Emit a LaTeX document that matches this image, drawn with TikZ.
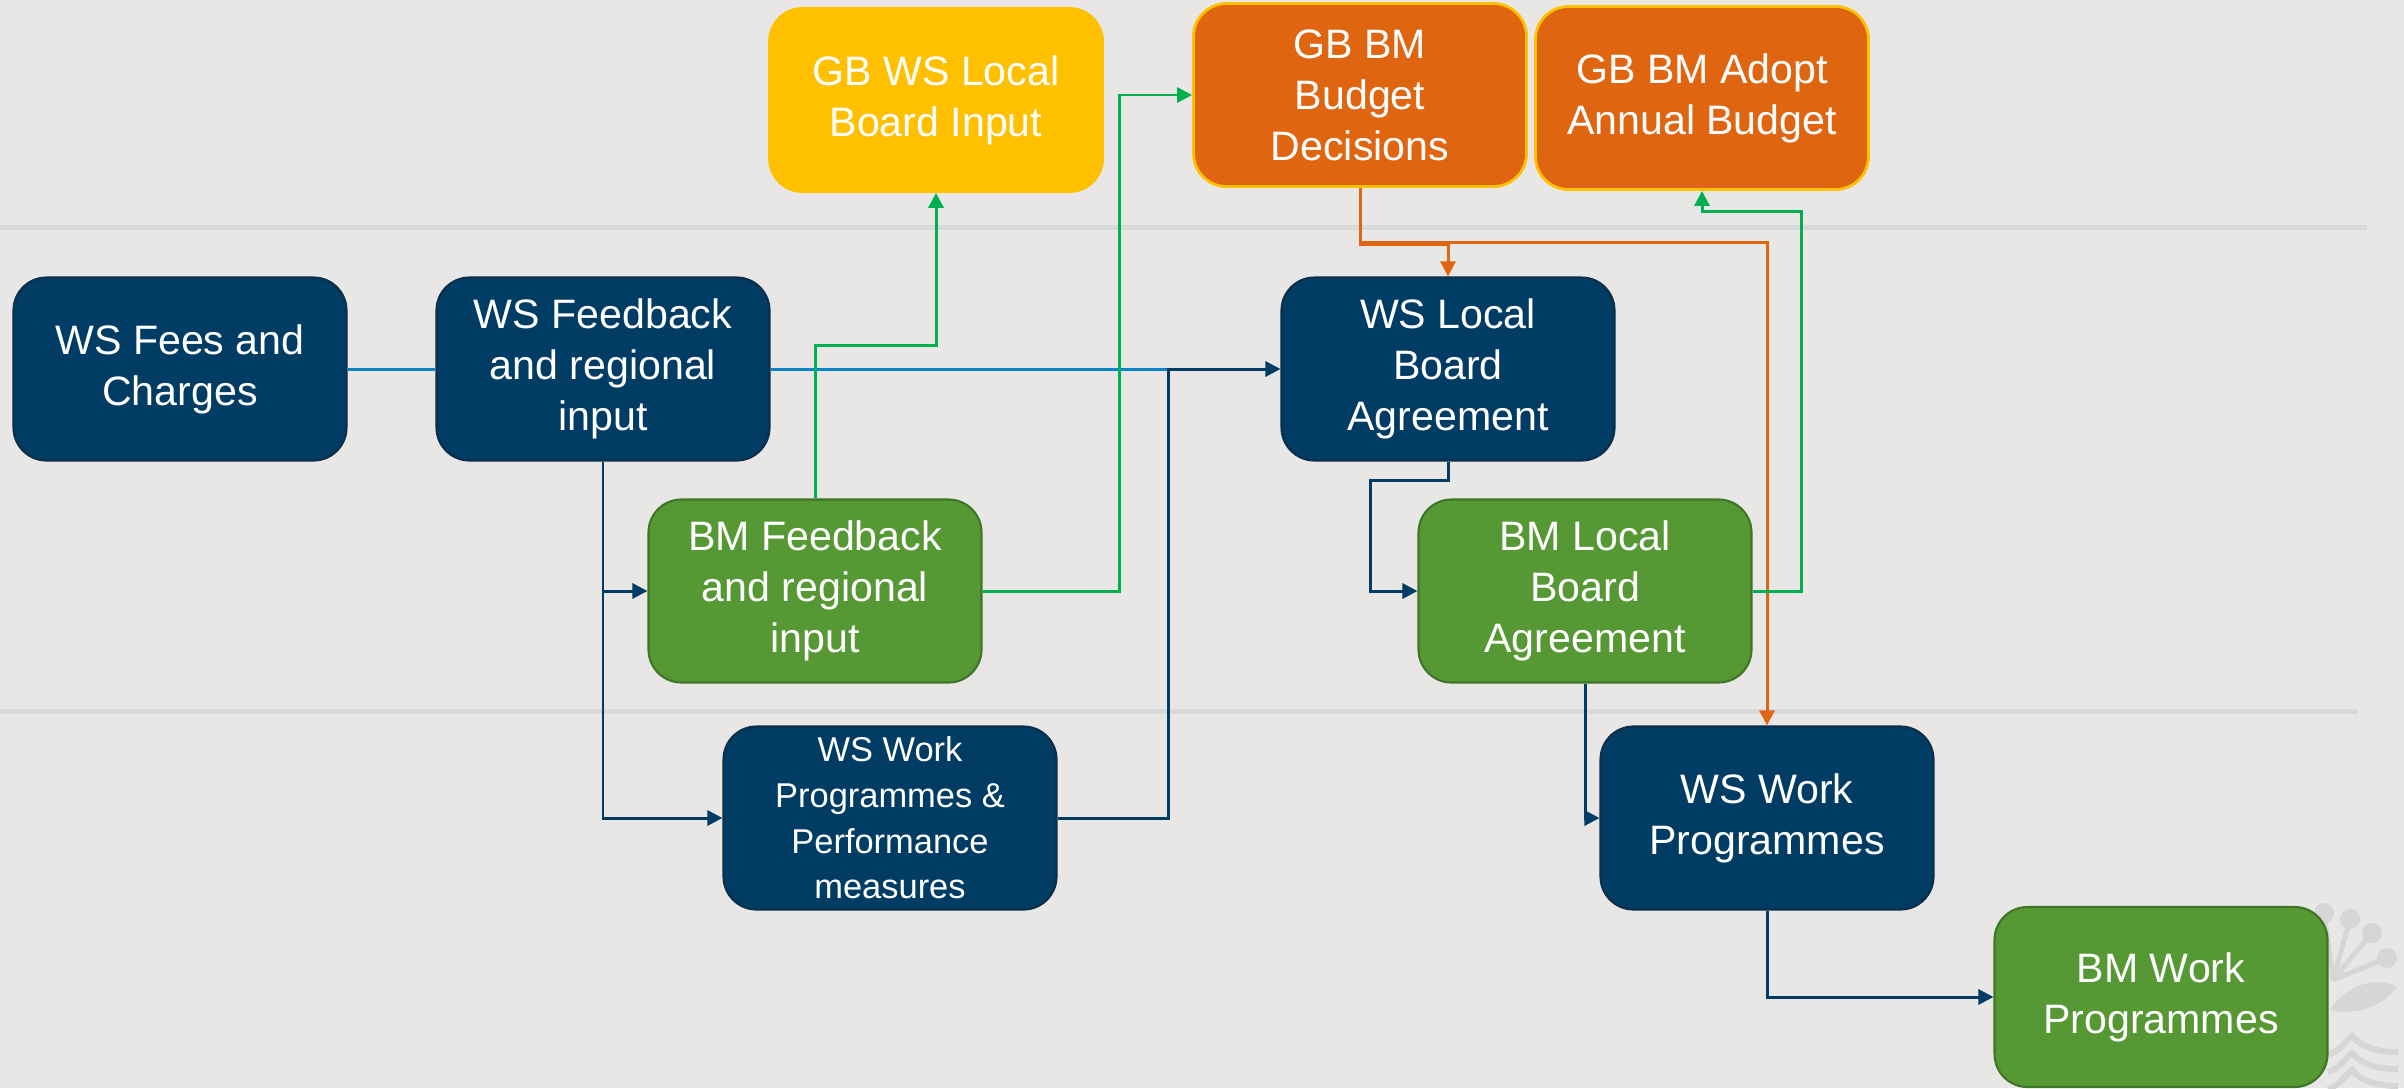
\documentclass[tikz,border=0pt]{standalone}
\usepackage{fontspec}
\setmainfont{Liberation Sans}
\usepackage{xcolor}
\usetikzlibrary{arrows.meta,positioning}
\definecolor{bgcol}{HTML}{E8E7E5}
\definecolor{sepcol}{HTML}{D9D9D9}
\definecolor{logocol}{HTML}{D6D6D6}
\definecolor{wsnavy}{HTML}{003C64}
\definecolor{wsedge}{HTML}{0B2E4A}
\definecolor{wslight}{HTML}{0A84C6}
\definecolor{bmgreen}{HTML}{559834}
\definecolor{bmedge}{HTML}{3E7526}
\definecolor{bmline}{HTML}{00B050}
\definecolor{gborange}{HTML}{E06511}
\definecolor{gbyellow}{HTML}{FFC000}
\tikzstyle{box} = [rounded corners=0.33cm, minimum width=3.33cm, minimum height=1.83cm,
    align=center, text=white, inner sep=2pt, font=\fontsize{11.7}{14.5}\selectfont]
\tikzstyle{wsbox} = [box, fill=wsnavy, draw=wsedge, line width=0.6pt]
\tikzstyle{bmbox} = [box, fill=bmgreen, draw=bmedge, line width=0.6pt]
\tikzstyle{gbbox} = [box, fill=gborange, draw=gbyellow, line width=0.8pt]
\tikzstyle{gbinput} = [box, fill=gbyellow, draw=gbyellow, line width=0.8pt]
\tikzstyle{wsline} = [draw=wslight, line width=0.85pt]
\tikzstyle{wsarrow} = [draw=wsnavy, line width=0.85pt, -{Triangle[length=0.15cm,width=0.15cm]}]
\tikzstyle{bmarrow} = [draw=bmline, line width=0.85pt, -{Triangle[length=0.15cm,width=0.15cm]}]
\tikzstyle{gbarrow} = [draw=gborange, line width=0.85pt, -{Triangle[length=0.15cm,width=0.15cm]}]

\begin{document}
\begin{tikzpicture}
\fill[bgcol] (0,0) rectangle (24.04,-10.88);
\useasboundingbox (0,0) rectangle (24.04,-10.88);
\fill[sepcol] (0,-2.25) rectangle (23.67,-2.30);
\fill[sepcol] (0,-7.09) rectangle (23.58,-7.14);

% faint logo, bottom right
\begin{scope}[logocol]
\foreach \cx/\cy in {23.24/-9.13, 23.50/-9.19, 23.72/-9.33, 23.87/-9.58}{
  \fill (\cx,\cy) circle (0.10);
  \draw[line width=0.05cm] (\cx,\cy) -- (23.33,-9.80);
}
\fill (23.30,-10.10) .. controls (23.50,-9.80) and (23.80,-9.78) .. (23.97,-9.87)
  .. controls (23.82,-10.08) and (23.52,-10.16) .. cycle;
\foreach \dy in {0,0.17,0.34}{
  \draw[line width=0.06cm] (23.28,-10.55-\dy) .. controls (23.42,-10.50-\dy) and (23.48,-10.38-\dy) .. (23.52,-10.36-\dy)
    .. controls (23.60,-10.46-\dy) and (23.75,-10.52-\dy) .. (23.98,-10.52-\dy);
}
\end{scope}

\node[wsbox] (fees) at (1.80,-3.69) {WS Fees and\\Charges};
\node[wsbox] (feedws) at (6.03,-3.69) {WS Feedback\\and regional\\input};
\node[gbinput] (gbws) at (9.36,-1.00) {GB WS Local\\Board Input};
\node[gbbox] (gbbudget) at (13.60,-0.95) {GB BM\\Budget\\Decisions};
\node[gbbox] (gbadopt) at (17.02,-0.98) {GB BM Adopt\\Annual Budget};
\node[wsbox] (wslocal) at (14.48,-3.69) {WS Local\\Board\\Agreement};
\node[bmbox] (bmfeed) at (8.15,-5.91) {BM Feedback\\and regional\\input};
\node[bmbox] (bmlocal) at (15.85,-5.91) {BM Local\\Board\\Agreement};
\node[wsbox, font=\fontsize{9.8}{13}\selectfont] (wsperf) at (8.90,-8.18)
    {WS Work\\Programmes \&\\Performance\\measures};
\node[wsbox] (wswork) at (17.67,-8.18) {WS Work\\Programmes};
\node[bmbox, minimum height=1.80cm] (bmwork) at (21.61,-9.97) {BM Work\\Programmes};

\coordinate (join) at (11.68,-3.69);
\draw[wsline] (fees.east) -- (feedws.west);
\draw[wsline] (feedws.east) -- (join);
\draw[wsarrow] (wsperf.east) -| (join) -- (wslocal.west);
\draw[wsarrow] (feedws.south) |- (bmfeed.west);
\draw[wsarrow] (feedws.south) |- (wsperf.west);
\draw[bmarrow] (bmfeed.north) -- (bmfeed.north |- 0,-3.45) -| (gbws.south);
\draw[bmarrow] (bmfeed.east) -- ++(1.37,0) |- (gbbudget.west);
\draw[gbarrow] (gbbudget.south) -- ++(0,-0.57) -| (wslocal.north);
\draw[gbarrow] (gbbudget.south) -- ++(0,-0.55) -| (wswork.north);
\draw[bmarrow] (bmlocal.east) -- ++(0.49,0) |- ([yshift=-0.21cm]gbadopt.south) -- (gbadopt.south);
\draw[wsarrow] (wslocal.south) -- ++(0,-0.19) -| ([xshift=-0.47cm]bmlocal.west) -- (bmlocal.west);
\draw[wsarrow] (bmlocal.south) |- (wswork.west);
\draw[wsarrow] (wswork.south) |- (bmwork.west);
\end{tikzpicture}
\end{document}
